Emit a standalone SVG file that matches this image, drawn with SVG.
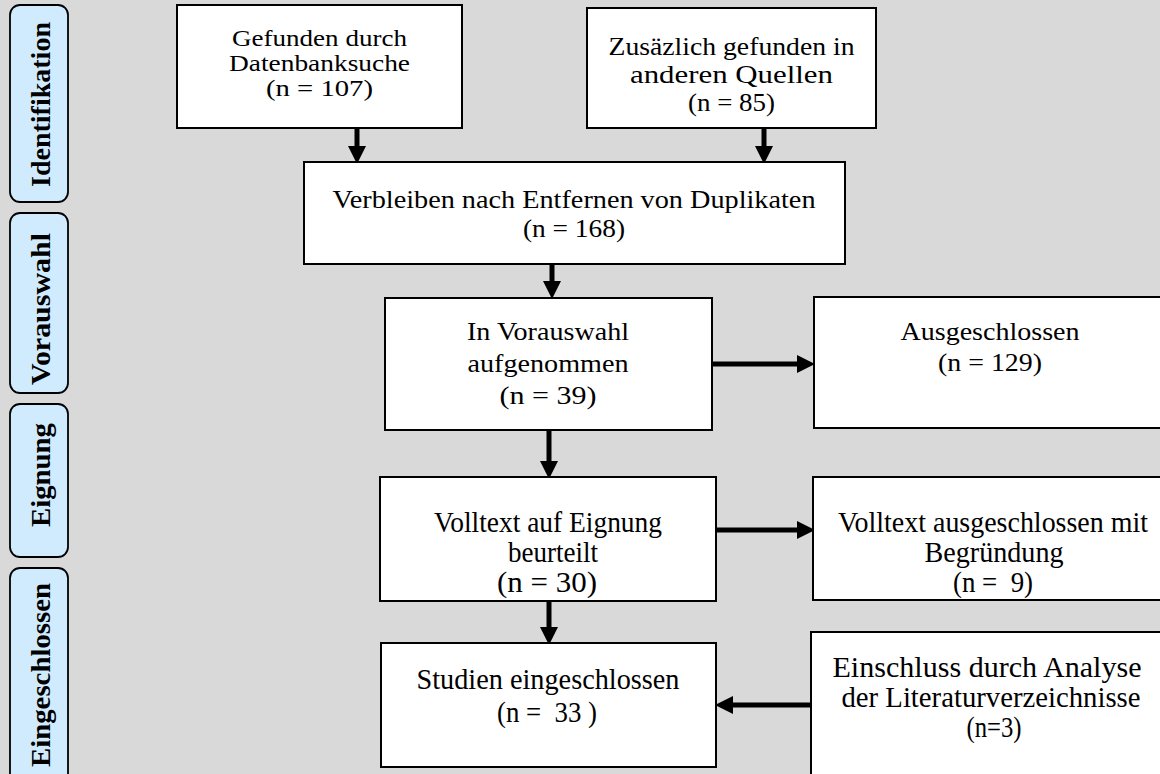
<svg xmlns="http://www.w3.org/2000/svg" width="1160" height="774" viewBox="0 0 1160 774">
<style>
.bg{fill:#d9d9d9}
.box{fill:#ffffff;stroke:#000000;stroke-width:2}
.lab{fill:#d0ebfd;stroke:#000000;stroke-width:1.8}
.t{font-family:"Liberation Serif","Times New Roman",serif;font-size:25px;fill:#000;text-anchor:middle;white-space:pre}
.ts{font-family:"Liberation Serif","Times New Roman",serif;font-size:23px;fill:#000;text-anchor:middle;white-space:pre}
.tl{font-family:"Liberation Serif","Times New Roman",serif;font-size:29px;fill:#000;text-anchor:middle;white-space:pre}
.tb{font-family:"Liberation Serif","Times New Roman",serif;font-size:27px;font-weight:bold;fill:#000;text-anchor:middle}
.arr{stroke:#000;stroke-width:5;fill:none}
</style>
<defs>
<marker id="ah" markerUnits="userSpaceOnUse" markerWidth="18" markerHeight="18" viewBox="0 0 16 16" refX="0" refY="8" orient="auto">
<path d="M0,0 L16,8 L0,16 z" fill="#000"/>
</marker>
</defs>
<rect class="bg" x="0" y="0" width="1160" height="774"/>

<g id="label-identifikation">
<rect class="lab" x="10" y="5" width="58" height="197" rx="10"/>
<text class="tb" transform="translate(50,104.5) rotate(-90)" textLength="165" lengthAdjust="spacingAndGlyphs">Identifikation</text>
</g>
<g id="label-vorauswahl">
<rect class="lab" x="10" y="213" width="58" height="180" rx="10"/>
<text class="tb" transform="translate(50,309) rotate(-90)" textLength="152" lengthAdjust="spacingAndGlyphs">Vorauswahl</text>
</g>
<g id="label-eignung">
<rect class="lab" x="10" y="404" width="58" height="153" rx="10"/>
<text class="tb" transform="translate(50,475) rotate(-90)" textLength="104" lengthAdjust="spacingAndGlyphs">Eignung</text>
</g>
<g id="label-eingeschlossen">
<rect class="lab" x="10" y="568" width="58" height="230" rx="10"/>
<text class="tb" transform="translate(50,675) rotate(-90)" textLength="184" lengthAdjust="spacingAndGlyphs">Eingeschlossen</text>
</g>

<g id="connectors">
<line class="arr" x1="357" y1="128" x2="357" y2="146" marker-end="url(#ah)"/>
<line class="arr" x1="764" y1="128" x2="764" y2="146" marker-end="url(#ah)"/>
<line class="arr" x1="552" y1="264" x2="552" y2="281" marker-end="url(#ah)"/>
<line class="arr" x1="712" y1="364" x2="797" y2="364" marker-end="url(#ah)"/>
<line class="arr" x1="549" y1="430" x2="549" y2="461" marker-end="url(#ah)"/>
<line class="arr" x1="716" y1="530" x2="797" y2="530" marker-end="url(#ah)"/>
<line class="arr" x1="549" y1="601" x2="549" y2="627" marker-end="url(#ah)"/>
<line class="arr" x1="811" y1="705" x2="733" y2="705" marker-end="url(#ah)"/>
</g>

<g id="node-datenbank">
<rect class="box" x="177" y="5" width="285" height="123"/>
<text class="ts" x="319.5" y="46" textLength="175" lengthAdjust="spacingAndGlyphs">Gefunden durch</text>
<text class="ts" x="319.5" y="71" textLength="181" lengthAdjust="spacingAndGlyphs">Datenbanksuche</text>
<text class="ts" x="319.5" y="96" textLength="107" lengthAdjust="spacingAndGlyphs">(n = 107)</text>
</g>
<g id="node-andere">
<rect class="box" x="587" y="8" width="289" height="120"/>
<text class="t" x="731.5" y="55" textLength="246" lengthAdjust="spacingAndGlyphs">Zusäzlich gefunden in</text>
<text class="t" x="731.5" y="83" textLength="203" lengthAdjust="spacingAndGlyphs">anderen Quellen</text>
<text class="t" x="731.5" y="111" textLength="87" lengthAdjust="spacingAndGlyphs">(n = 85)</text>
</g>
<g id="node-duplikate">
<rect class="box" x="304" y="162" width="541" height="102"/>
<text class="t" x="574" y="208" textLength="483" lengthAdjust="spacingAndGlyphs">Verbleiben nach Entfernen von Duplikaten</text>
<text class="t" x="574" y="237" textLength="102" lengthAdjust="spacingAndGlyphs">(n = 168)</text>
</g>
<g id="node-vorauswahl">
<rect class="box" x="385" y="298" width="327" height="132"/>
<text class="t" x="548" y="340" textLength="162" lengthAdjust="spacingAndGlyphs">In Vorauswahl</text>
<text class="t" x="548" y="372" textLength="161" lengthAdjust="spacingAndGlyphs">aufgenommen</text>
<text class="t" x="548" y="404" textLength="97" lengthAdjust="spacingAndGlyphs">(n = 39)</text>
</g>
<g id="node-ausgeschlossen">
<rect class="box" x="814" y="297" width="360" height="131"/>
<text class="t" x="990" y="340" textLength="179" lengthAdjust="spacingAndGlyphs">Ausgeschlossen</text>
<text class="t" x="990" y="371" textLength="104" lengthAdjust="spacingAndGlyphs">(n = 129)</text>
</g>
<g id="node-volltext">
<rect class="box" x="380" y="477" width="336" height="124"/>
<text class="tl" x="548" y="532" textLength="228" lengthAdjust="spacingAndGlyphs">Volltext auf Eignung</text>
<text class="tl" x="553" y="562" textLength="90" lengthAdjust="spacingAndGlyphs">beurteilt</text>
<text class="tl" x="547" y="592" textLength="100" lengthAdjust="spacingAndGlyphs">(n = 30)</text>
</g>
<g id="node-volltext-ausgeschlossen">
<rect class="box" x="813" y="477" width="360" height="123"/>
<text class="tl" x="993" y="532" textLength="310" lengthAdjust="spacingAndGlyphs">Volltext ausgeschlossen mit</text>
<text class="tl" x="994" y="562" textLength="139" lengthAdjust="spacingAndGlyphs">Begründung</text>
<text class="tl" x="993" y="592" textLength="80" lengthAdjust="spacingAndGlyphs">(n =  9)</text>
</g>
<g id="node-eingeschlossen">
<rect class="box" x="381" y="643" width="335" height="124"/>
<text class="tl" x="548" y="689" textLength="263" lengthAdjust="spacingAndGlyphs">Studien eingeschlossen</text>
<text class="tl" x="547" y="722" textLength="100" lengthAdjust="spacingAndGlyphs">(n =  33 )</text>
</g>
<g id="node-literatur">
<rect class="box" x="811" y="632" width="360" height="170"/>
<text class="tl" x="987" y="677" textLength="309" lengthAdjust="spacingAndGlyphs">Einschluss durch Analyse</text>
<text class="tl" x="991" y="707" textLength="299" lengthAdjust="spacingAndGlyphs">der Literaturverzeichnisse</text>
<text class="tl" x="994" y="737" textLength="55" lengthAdjust="spacingAndGlyphs">(n=3)</text>
</g>
</svg>
